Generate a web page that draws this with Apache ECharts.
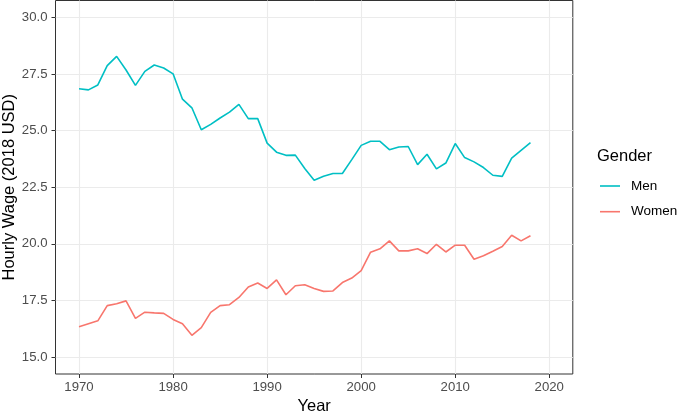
<!DOCTYPE html>
<html>
<head>
<meta charset="utf-8">
<script src="https://cdn.jsdelivr.net/npm/echarts@6/dist/echarts.min.js"></script>
<style>html,body{margin:0;padding:0;background:#fff}#c{width:677px;height:416px}</style>
</head>
<body>
<div id="c"></div>
<script>
const years = [1970,1971,1972,1973,1974,1975,1976,1977,1978,1979,1980,1981,1982,1983,1984,1985,1986,1987,1988,1989,1990,1991,1992,1993,1994,1995,1996,1997,1998,1999,2000,2001,2002,2003,2004,2005,2006,2007,2008,2009,2010,2011,2012,2013,2014,2015,2016,2017,2018];
const men = [26.85,26.80,27.02,27.87,28.28,27.68,27.00,27.62,27.90,27.77,27.51,26.39,26.01,25.04,25.28,25.56,25.82,26.16,25.53,25.53,24.45,24.05,23.91,23.92,23.33,22.81,22.99,23.11,23.11,23.72,24.35,24.53,24.53,24.16,24.28,24.30,23.50,23.96,23.31,23.57,24.43,23.81,23.62,23.37,23.03,22.98,23.79,24.13,24.47];
const women = [16.34,16.47,16.60,17.27,17.35,17.48,16.71,16.98,16.95,16.93,16.66,16.47,15.96,16.30,16.97,17.27,17.31,17.63,18.09,18.27,18.03,18.41,17.75,18.15,18.19,18.03,17.90,17.92,18.29,18.49,18.82,19.63,19.78,20.13,19.69,19.69,19.78,19.57,19.98,19.64,19.94,19.94,19.32,19.47,19.67,19.88,20.38,20.13,20.36];
const xTicks = [1970,1980,1990,2000,2010,2020];
const yTicks = [15,17.5,20,22.5,25,27.5,30];

const font = 'Liberation Sans';
const chart = echarts.init(document.getElementById('c'), null, {renderer:'canvas'});
chart.setOption({
  animation:false,
  backgroundColor:'#fff',
  grid:{left:55.5, right:104.2, top:0.5, height:373.5, show:true, borderColor:'#333333', borderWidth:1, backgroundColor:'transparent', containLabel:false, outerBoundsMode:'none'},
  legend:{
    orient:'vertical', left:600, top:178, padding:0, itemWidth:20, itemHeight:1.6, itemGap:9.7,
    icon:'rect',
    textStyle:{fontFamily:font, fontSize:13.5, color:'#000', lineHeight:16, padding:[0,0,0,6]},
    data:['Men','Women']
  },
  graphic:[{type:'text', left:597, top:148, style:{text:'Gender', fontFamily:font, fontSize:16.5, fill:'#000'}}],
  xAxis:{
    type:'value', min:1967.5, max:2022.5,
    name:'Year', nameLocation:'middle', nameGap:24, nameMoveOverlap:false,
    nameTextStyle:{fontFamily:font, fontSize:16.5, color:'#000'},
    axisLine:{show:false},
    axisTick:{show:true, length:4, lineStyle:{color:'#333333', width:1}, customValues:xTicks},
    axisLabel:{fontFamily:font, fontSize:13.2, color:'#4D4D4D', margin:7, customValues:xTicks, formatter:v=>String(v)},
    splitLine:{show:true, lineStyle:{color:'#EBEBEB', width:1.1}}
  },
  yAxis:{
    type:'value', min:14.25, max:30.75,
    name:'Hourly Wage (2018 USD)', nameLocation:'middle', nameGap:38, nameMoveOverlap:false,
    nameTextStyle:{fontFamily:font, fontSize:16.5, color:'#000'},
    axisLine:{show:false},
    axisTick:{show:true, length:4, lineStyle:{color:'#333333', width:1}, customValues:yTicks},
    axisLabel:{fontFamily:font, fontSize:13.2, color:'#4D4D4D', margin:8, customValues:yTicks, formatter:v=>v.toFixed(1)},
    splitLine:{show:true, lineStyle:{color:'#EBEBEB', width:1.1}}
  },
  series:[
    {name:'Men', type:'line', data:years.map((y,i)=>[y,men[i]]), showSymbol:false, symbol:'none', lineStyle:{color:'#00BFC4', width:1.6}, itemStyle:{color:'#00BFC4'}},
    {name:'Women', type:'line', data:years.map((y,i)=>[y,women[i]]), showSymbol:false, symbol:'none', lineStyle:{color:'#F8766D', width:1.6}, itemStyle:{color:'#F8766D'}}
  ]
});
</script>
</body>
</html>
